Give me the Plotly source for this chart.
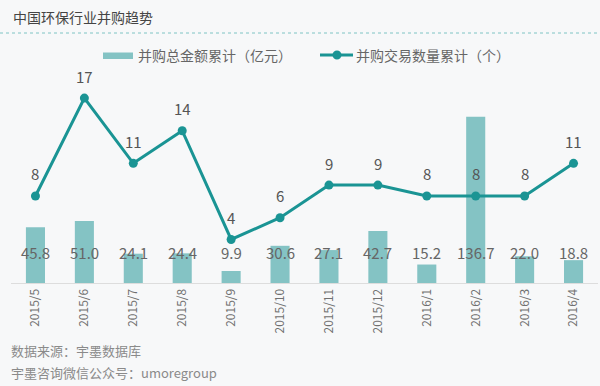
import plotly.graph_objects as go

months = ["2015/5", "2015/6", "2015/7", "2015/8", "2015/9", "2015/10",
          "2015/11", "2015/12", "2016/1", "2016/2", "2016/3", "2016/4"]
amount = [45.8, 51.0, 24.1, 24.4, 9.9, 30.6, 27.1, 42.7, 15.2, 136.7, 22.0, 18.8]
deals = [8, 17, 11, 14, 4, 6, 9, 9, 8, 8, 8, 11]
bar_name = "并购总金额累计（亿元）"
line_name = "并购交易数量累计（个）"

FONT = "Noto Sans CJK SC, Microsoft YaHei, sans-serif"
BAR_C = "#84c3c4"
LINE_C = "#1a9494"
BG = "#f7f8f9"

L, R, T, B = 11, 2, 80, 103
PW, PH = 600 - L - R, 386 - T - B


def px_x(px):
    return (px - L) / PW


def px_y(py):
    return (386 - B - py) / PH


fig = go.Figure()
fig.add_trace(go.Bar(x=months, y=amount, name=bar_name,
                     marker=dict(color=BAR_C, line=dict(width=0)), width=0.39,
                     yaxis="y", showlegend=False))
fig.add_trace(go.Scatter(x=months, y=deals, name=line_name,
                         mode="lines+markers", yaxis="y2", showlegend=False,
                         line=dict(color=LINE_C, width=3),
                         marker=dict(color=LINE_C, size=9)))

# value labels on bars (fixed height near the base)
for m, v in zip(months, amount):
    fig.add_annotation(x=m, y=px_y(265), xref="x", yref="paper", text=f"{v:.1f}",
                       showarrow=False, font=dict(size=15, color="#666666", family=FONT))
# labels above line points
for m, v in zip(months, deals):
    fig.add_annotation(x=m, y=v, xref="x", yref="y2", text=str(v), yshift=22,
                       showarrow=False, font=dict(size=15, color="#555555", family=FONT))

fig.update_layout(
    width=600, height=386,
    margin=dict(l=L, r=R, t=T, b=B, autoexpand=False),
    paper_bgcolor=BG, plot_bgcolor=BG,
    font=dict(family=FONT, color="#666666"),
    showlegend=False,
    xaxis=dict(type="category", range=[-0.5, len(months) - 0.5], tickangle=-90,
               showgrid=False, zeroline=False,
               showline=True, linecolor="#dddddd", linewidth=1, automargin=False,
               tickfont=dict(size=12, color="#707070", family=FONT), ticks=""),
    yaxis=dict(range=[0, 167], visible=False, showgrid=False, zeroline=False),
    yaxis2=dict(range=[0, 18.66], overlaying="y", visible=False, showgrid=False,
                zeroline=False),
)

# manual legend
fig.add_shape(type="rect", xref="paper", yref="paper", x0=px_x(103), x1=px_x(133),
              y0=px_y(59), y1=px_y(52.5), fillcolor=BAR_C, line=dict(width=0))
fig.add_annotation(x=px_x(136), y=px_y(55), xref="paper", yref="paper", text=bar_name,
                   showarrow=False, xanchor="left", yanchor="middle",
                   font=dict(size=14, color="#666666", family=FONT))
fig.add_shape(type="line", xref="paper", yref="paper", x0=px_x(320), x1=px_x(353),
              y0=px_y(55), y1=px_y(55), line=dict(color=LINE_C, width=3))
fig.add_shape(type="circle", xref="paper", yref="paper", x0=px_x(332.5), x1=px_x(341.5),
              y0=px_y(59.5), y1=px_y(50.5), fillcolor=LINE_C, line=dict(width=0))
fig.add_annotation(x=px_x(354), y=px_y(55), xref="paper", yref="paper", text=line_name,
                   showarrow=False, xanchor="left", yanchor="middle",
                   font=dict(size=14, color="#666666", family=FONT))

# title
fig.add_annotation(x=px_x(11), y=px_y(17), xref="paper", yref="paper",
                   text="中国环保行业并购趋势", showarrow=False, xanchor="left",
                   yanchor="middle", font=dict(size=14, color="#444444", family=FONT))
# dotted separator
fig.add_shape(type="line", xref="paper", yref="paper", x0=px_x(0), x1=px_x(600),
              y0=px_y(33), y1=px_y(33),
              line=dict(color="#7fc4c4", width=1, dash="dot"))
# footer
fig.add_annotation(x=px_x(9), y=px_y(350), xref="paper", yref="paper",
                   text="数据来源：宇墨数据库", showarrow=False, xanchor="left",
                   yanchor="middle", font=dict(size=13, color="#8a8a8a", family=FONT))
fig.add_annotation(x=px_x(9), y=px_y(372), xref="paper", yref="paper",
                   text="宇墨咨询微信公众号：umoregroup", showarrow=False, xanchor="left",
                   yanchor="middle", font=dict(size=13, color="#8a8a8a", family=FONT))

fig.write_html("out.html", post_script="document.body.style.margin='0';",
               config={"displayModeBar": False})
